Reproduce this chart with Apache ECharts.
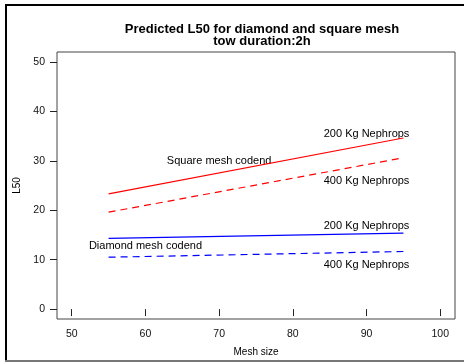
<!DOCTYPE html>
<html>
<head>
<meta charset="utf-8">
<script src="https://cdn.jsdelivr.net/npm/echarts@6/dist/echarts.min.js"></script>
<style>
html,body{margin:0;padding:0;background:#fff;}
#chart{width:464px;height:362px;}
</style>
</head>
<body>
<div id="chart"></div>
<script>
// ---- data ----
const meshSizes = [55, 95];
const squareMesh200 = [23.3, 34.6];
const squareMesh400 = [19.6, 30.6];
const diamondMesh200 = [14.3, 15.35];
const diamondMesh400 = [10.5, 11.65];
const xTicks = [50, 60, 70, 80, 90, 100];
const yTicks = [0, 10, 20, 30, 40, 50];
const annotations = [
  { x: 90, y: 35.4, text: '200 Kg Nephrops' },
  { x: 70, y: 29.9, text: 'Square mesh codend' },
  { x: 90, y: 25.9, text: '400 Kg Nephrops' },
  { x: 90, y: 16.8, text: '200 Kg Nephrops' },
  { x: 60, y: 12.8, text: 'Diamond mesh codend' },
  { x: 90, y: 8.9, text: '400 Kg Nephrops' }
];
const titleLines = ['Predicted L50 for diamond and square mesh', 'tow duration:2h'];

const FONT = '"Liberation Sans", Arial, sans-serif';
const pair = (xs, ys) => xs.map((x, i) => [x, ys[i]]);

const chart = echarts.init(document.getElementById('chart'), null, { renderer: 'canvas' });
chart.setOption({
  animation: false,
  backgroundColor: '#fff',
  title: {
    text: titleLines.join('\n'),
    left: 257, top: 18, textAlign: 'center',
    textStyle: { fontFamily: FONT, fontSize: 13, fontWeight: 'bold', color: '#000', lineHeight: 12 }
  },
  grid: {
    left: 57, top: 52, right: 9, bottom: 43,
    show: true, borderColor: '#444', borderWidth: 1, backgroundColor: 'transparent'
  },
  xAxis: {
    type: 'value', min: 48, max: 102,
    name: 'Mesh size', nameLocation: 'middle', nameGap: 28,
    nameTextStyle: { fontFamily: FONT, fontSize: 10, color: '#000' },
    axisLine: { show: false },
    splitLine: { show: false },
    axisTick: { show: true, inside: false, length: 7, customValues: xTicks, lineStyle: { color: '#222', width: 1 } },
    axisLabel: { customValues: xTicks, margin: 10, fontFamily: FONT, fontSize: 10.5, color: '#111' }
  },
  yAxis: {
    type: 'value', min: -2, max: 52,
    name: 'L50', nameLocation: 'middle', nameGap: 34, nameRotate: 90,
    nameTextStyle: { fontFamily: FONT, fontSize: 10, color: '#000' },
    axisLine: { show: false },
    splitLine: { show: false },
    axisTick: { show: true, inside: false, length: 7, customValues: yTicks, lineStyle: { color: '#222', width: 1 } },
    axisLabel: { customValues: yTicks, margin: 12, fontFamily: FONT, fontSize: 10.5, color: '#111' }
  },
  series: [
    { type: 'line', data: pair(meshSizes, squareMesh200), symbol: 'none', lineStyle: { color: '#ff0000', width: 1.2 } },
    { type: 'line', data: pair(meshSizes, squareMesh400), symbol: 'none', lineStyle: { color: '#ff0000', width: 1.2, type: [7, 5] } },
    { type: 'line', data: pair(meshSizes, diamondMesh200), symbol: 'none', lineStyle: { color: '#0000ff', width: 1.2 } },
    { type: 'line', data: pair(meshSizes, diamondMesh400), symbol: 'none', lineStyle: { color: '#0000ff', width: 1.2, type: [7, 5] } },
    {
      type: 'scatter', symbolSize: 0, silent: true,
      itemStyle: { opacity: 1 },
      data: annotations.map(a => ({ value: [a.x, a.y], name: a.text })),
      label: {
        show: true, position: 'inside', formatter: p => p.name,
        fontFamily: FONT, fontSize: 11, color: '#000', opacity: 1
      }
    }
  ],
  graphic: [
    { type: 'line', shape: { x1: 6, y1: 4, x2: 6, y2: 362 }, style: { stroke: '#000', lineWidth: 2 } },
    { type: 'line', shape: { x1: 5, y1: 5, x2: 464, y2: 5 }, style: { stroke: '#000', lineWidth: 2 } },
    { type: 'line', shape: { x1: 5, y1: 361, x2: 464, y2: 361 }, style: { stroke: '#777', lineWidth: 2 } }
  ]
});
</script>
</body>
</html>
